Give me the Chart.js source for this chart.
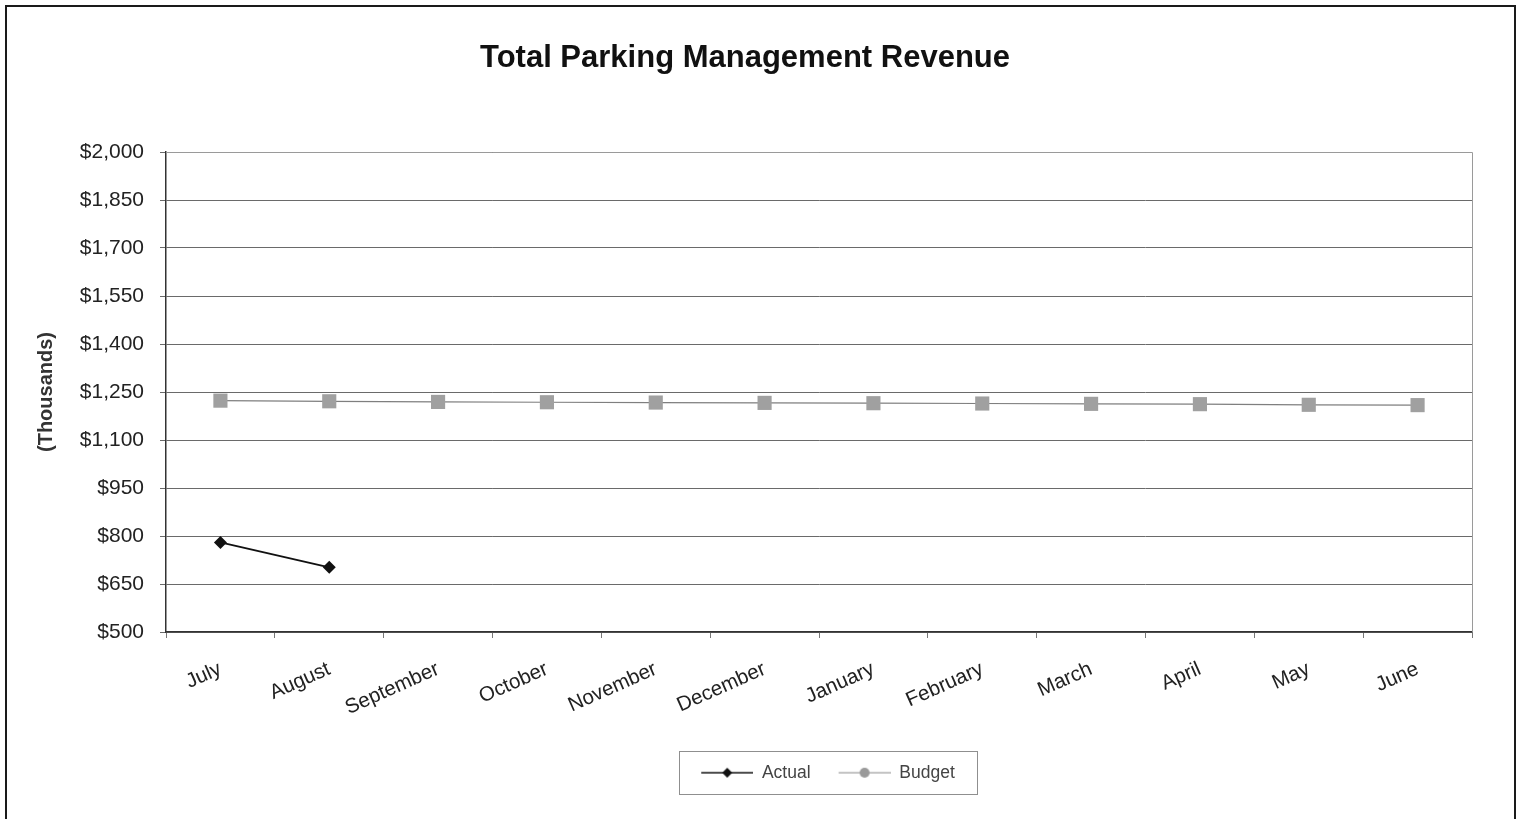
<!DOCTYPE html>
<html>
<head>
<meta charset="utf-8">
<title>Total Parking Management Revenue</title>
<script src="https://cdn.jsdelivr.net/npm/chart.js@4.4.1/dist/chart.umd.min.js"></script>
<style>
  html, body { margin: 0; padding: 0; background: #fff; overflow: hidden; }
  #wrap { position: relative; width: 1522px; height: 819px; }
  #frame { position: absolute; left: 5px; top: 5px; width: 1507px; height: 840px;
           border: 2px solid #1a1a1a; pointer-events: none; }
</style>
</head>
<body>
<div id="wrap">
  <canvas id="myChart" width="1522" height="819"></canvas>
  <div id="frame"></div>
</div>
<script>
// data (thousands of dollars)
const months = ['July', 'August', 'September', 'October', 'November', 'December',
                'January', 'February', 'March', 'April', 'May', 'June'];
const actual = [780, 702, null, null, null, null, null, null, null, null, null, null];
const budget = [1223, 1221, 1219, 1218, 1217, 1216, 1215, 1214, 1213, 1212, 1210, 1209];
const yMin = 500;
const yMax = 2000;
const yStep = 150;

const fontFamily = "Arial, 'Liberation Sans', sans-serif";

// little line+marker swatches for the legend, like Excel draws them
function swatch(kind) {
  const c = document.createElement('canvas');
  c.width = 70; c.height = 16;
  const g = c.getContext('2d');
  g.beginPath();
  g.moveTo(18, 8); g.lineTo(70, 8);
  g.strokeStyle = kind == 'actual' ? '#111' : '#8a8a8a';
  g.lineWidth = kind == 'actual' ? 1.6 : 1.2;
  g.stroke();
  g.fillStyle = kind == 'actual' ? '#111' : '#9a9a9a';
  g.beginPath();
  if (kind == 'actual') {
    g.moveTo(44, 3); g.lineTo(49, 8); g.lineTo(44, 13); g.lineTo(39, 8);
  } else {
    g.arc(44, 8, 5, 0, Math.PI * 2);
  }
  g.closePath();
  g.fill();
  return c;
}
const swatches = { Actual: swatch('actual'), Budget: swatch('budget') };

// outline round the plot area and the legend
const boxes = {
  id: 'boxes',
  beforeDatasetsDraw(chart) {
    const a = chart.chartArea;
    const ctx = chart.ctx;
    ctx.save();
    ctx.strokeStyle = '#9a9a9a';
    ctx.lineWidth = 1;
    ctx.beginPath();
    ctx.moveTo(a.left, a.top + 0.5);
    ctx.lineTo(a.right + 0.5, a.top + 0.5);
    ctx.lineTo(a.right + 0.5, a.bottom);
    ctx.stroke();
    ctx.restore();
  },
  afterDraw(chart) {
    const lg = chart.legend;
    const hb = lg.legendHitBoxes;
    if (!hb || !hb.length) return;
    let l = Infinity, r = -Infinity;
    hb.forEach(h => { l = Math.min(l, h.left); r = Math.max(r, h.left + h.width); });
    const cy = lg.top + 10 + 8.75;
    const ctx = chart.ctx;
    ctx.save();
    ctx.strokeStyle = '#8f8f8f';
    ctx.lineWidth = 1;
    ctx.strokeRect(Math.round(l - 4) + 0.5, Math.round(cy - 21.5) + 0.5, Math.round(r - l + 26), 43);
    ctx.restore();
  }
};

const ctx = document.getElementById('myChart').getContext('2d');
const chart = new Chart(ctx, {
  type: 'line',
  data: {
    labels: months,
    datasets: [{
      label: 'Actual',
      data: actual,
      borderColor: '#111',
      backgroundColor: '#111',
      borderWidth: 2,
      pointStyle: 'rectRot',
      pointRadius: 6.5,
      pointBorderWidth: 0,
      spanGaps: false
    },
    {
      label: 'Budget',
      data: budget,
      borderColor: '#7f7f7f',
      backgroundColor: '#a0a0a0',
      borderWidth: 1.2,
      pointStyle: 'rect',
      pointRadius: 10,
      pointBorderWidth: 0
    }]
  },
  options: {
    responsive: false,
    animation: false,
    layout: { padding: { left: 18, right: 50, top: 0, bottom: 27.5 } },
    plugins: {
      title: {
        display: true,
        text: 'Total Parking Management Revenue',
        color: '#111',
        font: { family: fontFamily, size: 31, weight: 'bold' },
        padding: { top: 40, bottom: 74.8 }
      },
      legend: {
        position: 'bottom',
        fullSize: false,
        labels: {
          color: '#444',
          font: { family: fontFamily, size: 17.5 },
          usePointStyle: true,
          pointStyleWidth: 70,
          padding: 10,
          generateLabels(chart) {
            const items = Chart.defaults.plugins.legend.labels.generateLabels(chart);
            items.forEach(it => { it.pointStyle = swatches[it.text]; });
            return items;
          }
        }
      },
      tooltip: { enabled: false }
    },
    scales: {
      x: {
        offset: true,
        afterFit(scale) { scale.height = 122; },
        grid: { display: true, drawOnChartArea: false, offset: true, tickLength: 6, color: '#777' },
        border: { color: '#333', width: 1.5 },
        ticks: {
          color: '#222',
          font: { family: fontFamily, size: 20.5 },
          minRotation: 24,
          maxRotation: 24,
          padding: 19,
          autoSkip: false
        }
      },
      y: {
        min: yMin,
        max: yMax,
        afterFit(scale) { scale.width = 148; },
        grid: { color: '#6a6a6a', lineWidth: 1, tickLength: 6 },
        border: { color: '#333', width: 1.5 },
        title: {
          display: true,
          text: '(Thousands)',
          color: '#333',
          font: { family: fontFamily, size: 20, weight: 'bold' },
          padding: { top: 16, bottom: 0 }
        },
        ticks: {
          stepSize: yStep,
          color: '#222',
          font: { family: fontFamily, size: 21 },
          padding: 16,
          callback: v => '$' + v.toLocaleString('en-US')
        }
      }
    }
  },
  plugins: [boxes]
});
</script>
</body>
</html>
